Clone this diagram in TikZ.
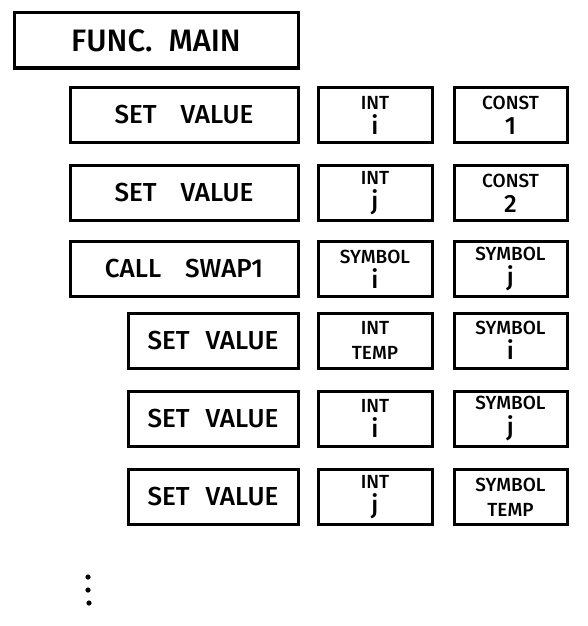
\documentclass[tikz,border=0pt]{standalone}
\usepackage{fontspec}
\setmainfont{Fira Sans Medium}
\usepackage{tikz}
\usetikzlibrary{positioning}

\tikzset{
  blk/.style={draw,line width=3pt,inner sep=0pt,minimum height=55pt},
  bigtxt/.style={font=\fontsize{26}{30}\selectfont},
  smalltxt/.style={font=\fontsize{19}{24}\selectfont,align=center},
}
\newcommand{\lo}[1]{\fontsize{25}{26}\selectfont #1}

\begin{document}
\begin{tikzpicture}[x=1pt,y=-1pt]
  \useasboundingbox (0,0) rectangle (588,626);
  % top level
  \node[blk,bigtxt,minimum width=284pt] (func) at (156,40.5) {\fontsize{31}{34}\selectfont FUNC.\hspace{16pt}MAIN};
  % main body
  \node[blk,bigtxt,minimum width=228pt] (seti) at (184,115) {SET\hspace{24pt}VALUE};
  \node[blk,smalltxt,minimum width=114pt] (inti) at (375,115) {INT\\[1pt]\lo{i}};
  \node[blk,smalltxt,minimum width=113pt] (cone) at (510.5,115) {CONST\\[1pt]\lo{1}};
  \node[blk,bigtxt,minimum width=228pt] (setj) at (184,193) {SET\hspace{24pt}VALUE};
  \node[blk,smalltxt,minimum width=114pt] (intj) at (375,193) {INT\\[1pt]\lo{j}};
  \node[blk,smalltxt,minimum width=113pt] (ctwo) at (510.5,193) {CONST\\[1pt]\lo{2}};
  \node[blk,bigtxt,minimum width=228pt] (call) at (184,269) {CALL\hspace{24pt}SWAP1};
  \node[blk,smalltxt,minimum width=114pt] (argi) at (375,269) {SYMBOL\\[1pt]\lo{i}};
  \node[blk,smalltxt,minimum width=113pt] (argj) at (510.5,269) {SYMBOL\\[1pt]\lo{j}};
  % inside swap
  \node[blk,bigtxt,minimum width=170pt] (settmp) at (213,340.5) {SET\hspace{16pt}VALUE};
  \node[blk,smalltxt,minimum width=114pt] (inttmp) at (375,340.5) {INT\\[1pt]TEMP};
  \node[blk,smalltxt,minimum width=113pt] (symi) at (510.5,340.5) {SYMBOL\\[1pt]\lo{i}};
  \node[blk,bigtxt,minimum width=170pt] (setii) at (213,418.5) {SET\hspace{16pt}VALUE};
  \node[blk,smalltxt,minimum width=114pt] (intii) at (375,418.5) {INT\\[1pt]\lo{i}};
  \node[blk,smalltxt,minimum width=113pt] (symj) at (510.5,418.5) {SYMBOL\\[1pt]\lo{j}};
  \node[blk,bigtxt,minimum width=170pt] (setjj) at (213,497) {SET\hspace{16pt}VALUE};
  \node[blk,smalltxt,minimum width=114pt] (intjj) at (375,497) {INT\\[1pt]\lo{j}};
  \node[blk,smalltxt,minimum width=113pt] (symtmp) at (510.5,497) {SYMBOL\\[1pt]TEMP};
  % and so on
  \fill (88,577) circle (2.6pt) (88,590) circle (2.6pt) (89,603) circle (2.6pt);
\end{tikzpicture}
\end{document}
